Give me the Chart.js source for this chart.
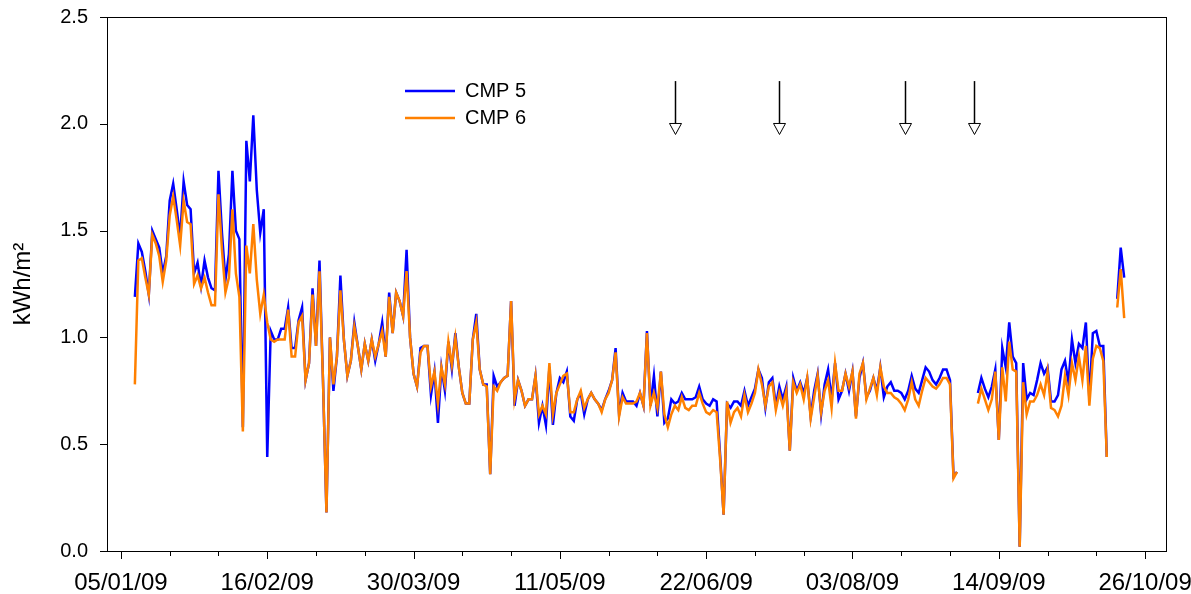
<!DOCTYPE html>
<html>
<head>
<meta charset="utf-8">
<title>CMP 5 / CMP 6</title>
<script src="https://cdn.jsdelivr.net/npm/chart.js@4/dist/chart.umd.min.js"></script>
<style>
    html, body { margin: 0; padding: 0; background: #fff; }
</style>
</head>
<body>
<canvas id="energyChart" width="1191" height="594"></canvas>
<script>
// Daily energy, kWh/m2. Day 0 = 01/01/09, first value is day 8 (09/01/09)
const firstDay = 8;

const cmp5 = [
    1.19, 1.44, 1.40, 1.31, 1.20, 1.50, 1.46, 1.42, 1.30, 1.38,
    1.64, 1.72, 1.60, 1.47, 1.73, 1.62, 1.60, 1.30, 1.35, 1.24,
    1.36, 1.28, 1.23, 1.22, 1.78, 1.49, 1.27, 1.39, 1.78, 1.50,
    1.46, 0.58, 1.92, 1.73, 2.04, 1.69, 1.49, 1.60, 0.44, 1.03,
    0.99, 0.99, 1.04, 1.04, 1.14, 0.95, 0.95, 1.08, 1.14, 0.80,
    0.88, 1.23, 0.96, 1.36, 0.80, 0.18, 1.00, 0.75, 0.91, 1.29,
    0.99, 0.82, 0.89, 1.07, 0.96, 0.85, 0.97, 0.89, 0.99, 0.89,
    0.97, 1.07, 0.91, 1.21, 1.02, 1.21, 1.17, 1.10, 1.41, 1.00,
    0.83, 0.77, 0.95, 0.96, 0.96, 0.73, 0.84, 0.60, 0.86, 0.75,
    0.98, 0.85, 1.02, 0.86, 0.74, 0.69, 0.69, 0.99, 1.11, 0.85,
    0.78, 0.78, 0.36, 0.82, 0.77, 0.79, 0.81, 0.82, 1.17, 0.68,
    0.80, 0.75, 0.68, 0.71, 0.71, 0.82, 0.60, 0.68, 0.59, 0.86,
    0.59, 0.74, 0.81, 0.79, 0.84, 0.63, 0.61, 0.71, 0.74, 0.64,
    0.71, 0.74, 0.71, 0.69, 0.66, 0.71, 0.75, 0.80, 0.95, 0.64,
    0.74, 0.70, 0.70, 0.70, 0.68, 0.74, 0.68, 1.03, 0.68, 0.82,
    0.63, 0.84, 0.60, 0.62, 0.71, 0.69, 0.70, 0.74, 0.71, 0.71,
    0.71, 0.72, 0.77, 0.71, 0.69, 0.68, 0.71, 0.70, 0.45, 0.17,
    0.69, 0.67, 0.70, 0.70, 0.68, 0.75, 0.68, 0.72, 0.76, 0.85,
    0.81, 0.67, 0.79, 0.81, 0.68, 0.77, 0.71, 0.77, 0.47, 0.81,
    0.75, 0.79, 0.74, 0.81, 0.63, 0.75, 0.83, 0.64, 0.78, 0.85,
    0.71, 0.88, 0.71, 0.75, 0.83, 0.75, 0.84, 0.63, 0.81, 0.88,
    0.72, 0.75, 0.81, 0.75, 0.86, 0.72, 0.77, 0.79, 0.75, 0.75,
    0.74, 0.71, 0.75, 0.82, 0.76, 0.74, 0.80, 0.86, 0.84, 0.80,
    0.78, 0.81, 0.85, 0.85, 0.80, 0.35, 0.37, null, null, null,
    null, null, 0.74, 0.81, 0.76, 0.72, 0.77, 0.85, 0.52, 0.95,
    0.86, 1.07, 0.91, 0.88, 0.02, 0.88, 0.71, 0.74, 0.73, 0.80,
    0.88, 0.83, 0.86, 0.70, 0.70, 0.73, 0.85, 0.89, 0.79, 0.99,
    0.88, 0.97, 0.95, 1.07, 0.71, 1.02, 1.03, 0.96, 0.96, 0.44,
    null, null, 1.18, 1.42, 1.28
];

const cmp6 = [
    0.78, 1.36, 1.37, 1.28, 1.20, 1.48, 1.44, 1.38, 1.26, 1.36,
    1.57, 1.66, 1.55, 1.43, 1.64, 1.54, 1.53, 1.25, 1.29, 1.23,
    1.28, 1.21, 1.15, 1.15, 1.67, 1.41, 1.21, 1.28, 1.60, 1.30,
    1.19, 0.56, 1.43, 1.30, 1.53, 1.27, 1.11, 1.20, 1.07, 0.99,
    0.98, 0.99, 0.99, 0.99, 1.13, 0.91, 0.91, 1.07, 1.10, 0.80,
    0.88, 1.20, 0.96, 1.31, 0.80, 0.18, 1.00, 0.78, 0.91, 1.22,
    0.99, 0.82, 0.89, 1.05, 0.96, 0.85, 0.97, 0.89, 0.99, 0.91,
    0.97, 1.03, 0.91, 1.19, 1.02, 1.21, 1.17, 1.10, 1.31, 1.00,
    0.83, 0.77, 0.93, 0.96, 0.96, 0.77, 0.84, 0.69, 0.86, 0.78,
    0.98, 0.87, 1.00, 0.86, 0.74, 0.69, 0.69, 0.99, 1.07, 0.85,
    0.78, 0.77, 0.36, 0.77, 0.75, 0.79, 0.81, 0.82, 1.17, 0.71,
    0.80, 0.75, 0.68, 0.71, 0.71, 0.82, 0.64, 0.68, 0.64, 0.88,
    0.64, 0.74, 0.78, 0.82, 0.83, 0.65, 0.65, 0.71, 0.75, 0.67,
    0.71, 0.74, 0.71, 0.69, 0.65, 0.71, 0.74, 0.80, 0.93, 0.63,
    0.72, 0.69, 0.69, 0.69, 0.70, 0.74, 0.68, 1.02, 0.68, 0.74,
    0.67, 0.84, 0.64, 0.58, 0.64, 0.68, 0.66, 0.72, 0.67, 0.66,
    0.68, 0.68, 0.74, 0.69, 0.65, 0.64, 0.66, 0.65, 0.43, 0.17,
    0.70, 0.60, 0.65, 0.67, 0.63, 0.73, 0.65, 0.69, 0.74, 0.85,
    0.78, 0.68, 0.77, 0.79, 0.66, 0.74, 0.68, 0.75, 0.47, 0.79,
    0.74, 0.78, 0.71, 0.81, 0.62, 0.72, 0.82, 0.65, 0.75, 0.80,
    0.67, 0.88, 0.75, 0.75, 0.83, 0.77, 0.84, 0.62, 0.83, 0.88,
    0.71, 0.76, 0.81, 0.73, 0.86, 0.77, 0.74, 0.74, 0.72, 0.71,
    0.69, 0.66, 0.71, 0.79, 0.71, 0.68, 0.75, 0.81, 0.79, 0.77,
    0.76, 0.78, 0.81, 0.81, 0.78, 0.34, 0.37, null, null, null,
    null, null, 0.69, 0.76, 0.71, 0.66, 0.71, 0.84, 0.52, 0.86,
    0.70, 0.98, 0.85, 0.84, 0.02, 0.79, 0.64, 0.70, 0.70, 0.73,
    0.78, 0.73, 0.84, 0.67, 0.66, 0.63, 0.68, 0.82, 0.73, 0.88,
    0.80, 0.91, 0.80, 0.96, 0.68, 0.90, 0.96, 0.95, 0.89, 0.44,
    null, null, 1.14, 1.32, 1.09
];

// x axis: day numbers, tick every 14 days from 05/01/09, label every third
const xMin = 0;
const xMax = 304;
const tickStart = 4;
const tickStep = 14;
const tickCount = 22;
const dateLabels = ['05/01/09', '16/02/09', '30/03/09', '11/05/09', '22/06/09', '03/08/09', '14/09/09', '26/10/09'];

const yTicks = [0, 0.5, 1.0, 1.5, 2.0, 2.5];

// down arrows above the curves
const arrowDays = [163, 193, 229, 249];
const arrowTop = 2.2;
const arrowTip = 1.95;

const tickDays = [];
for (let i = 0; i < tickCount; i++) tickDays.push(tickStart + i * tickStep);

function toPoints(values) {
    return values.map((v, i) => ({ x: firstDay + i, y: v }));
}

const FONT = "'Liberation Sans', Arial, sans-serif";

// frame, tick marks, arrows and legend
const extras = {
    id: 'extras',
    afterDraw(chart) {
        const ctx = chart.ctx;
        const area = chart.chartArea;
        const xs = chart.scales.x;
        const ys = chart.scales.y;

        ctx.save();
        ctx.strokeStyle = '#000';
        ctx.lineWidth = 1;
        ctx.strokeRect(area.left + 0.5, area.top + 0.5, area.right - area.left, area.bottom - area.top);

        ctx.beginPath();
        yTicks.forEach(v => {
            const y = Math.round(ys.getPixelForValue(v)) + 0.5;
            ctx.moveTo(area.left - 7, y);
            ctx.lineTo(area.left, y);
        });
        tickDays.forEach((d, i) => {
            const x = Math.round(xs.getPixelForValue(d)) + 0.5;
            ctx.moveTo(x, area.bottom);
            ctx.lineTo(x, area.bottom + (i % 3 === 0 ? 8 : 5));
        });
        ctx.stroke();

        // arrows
        ctx.lineWidth = 1.5;
        arrowDays.forEach(d => {
            const x = Math.round(xs.getPixelForValue(d)) + 0.5;
            const y0 = ys.getPixelForValue(arrowTop);
            const y1 = ys.getPixelForValue(arrowTip);
            ctx.beginPath();
            ctx.moveTo(x, y0);
            ctx.lineTo(x, y1 - 11);
            ctx.stroke();
            ctx.beginPath();
            ctx.moveTo(x - 6, y1 - 11);
            ctx.lineTo(x + 6, y1 - 11);
            ctx.lineTo(x, y1);
            ctx.closePath();
            ctx.fillStyle = '#fff';
            ctx.fill();
            ctx.lineWidth = 1;
            ctx.stroke();
            ctx.lineWidth = 1.5;
        });

        // legend
        ctx.font = '20px ' + FONT;
        ctx.textBaseline = 'middle';
        ctx.fillStyle = '#000';
        chart.data.datasets.forEach((ds, i) => {
            const y = 91 + i * 27;
            ctx.beginPath();
            ctx.strokeStyle = ds.borderColor;
            ctx.lineWidth = 2.5;
            ctx.moveTo(405, y);
            ctx.lineTo(455, y);
            ctx.stroke();
            ctx.fillText(ds.label, 465, y);
        });
        ctx.restore();
    }
};

Chart.defaults.font.family = FONT;
Chart.defaults.font.size = 20;
Chart.defaults.color = '#000';

new Chart(document.getElementById('energyChart'), {
    type: 'line',
    data: {
        datasets: [
            {
                label: 'CMP 5',
                data: toPoints(cmp5),
                borderColor: '#0000ff',
                borderWidth: 2.5,
                pointRadius: 0,
                tension: 0,
                order: 2
            },
            {
                label: 'CMP 6',
                data: toPoints(cmp6),
                borderColor: '#ff8000',
                borderWidth: 2.5,
                pointRadius: 0,
                tension: 0,
                order: 1
            }
        ]
    },
    options: {
        responsive: false,
        animation: false,
        devicePixelRatio: 1,
        layout: { padding: { top: 17, right: 25, left: 0, bottom: 0 } },
        plugins: {
            legend: { display: false },
            tooltip: { enabled: false }
        },
        scales: {
            x: {
                type: 'linear',
                min: xMin,
                max: xMax,
                grid: { display: false },
                border: { display: false },
                afterBuildTicks: scale => {
                    scale.ticks = tickDays.map(v => ({ value: v }));
                },
                afterFit: scale => {
                    scale.height = 43;
                    scale.paddingLeft = 0;
                    scale.paddingRight = 0;
                },
                ticks: {
                    autoSkip: false,
                    maxRotation: 0,
                    padding: 10,
                    font: { size: 24 },
                    callback: (value, index) => index % 3 === 0 ? dateLabels[index / 3] : ''
                }
            },
            y: {
                min: 0,
                max: 2.5,
                grid: { display: false },
                border: { display: false },
                afterBuildTicks: scale => {
                    scale.ticks = yTicks.map(v => ({ value: v }));
                },
                afterFit: scale => {
                    scale.width = 107;
                    scale.paddingTop = 0;
                    scale.paddingBottom = 0;
                },
                ticks: {
                    padding: 11,
                    callback: value => value.toFixed(1)
                },
                title: {
                    display: true,
                    text: 'kWh/m²',
                    font: { size: 24 },
                    padding: { top: 9, bottom: 0 }
                }
            }
        }
    },
    plugins: [extras]
});
</script>
</body>
</html>
